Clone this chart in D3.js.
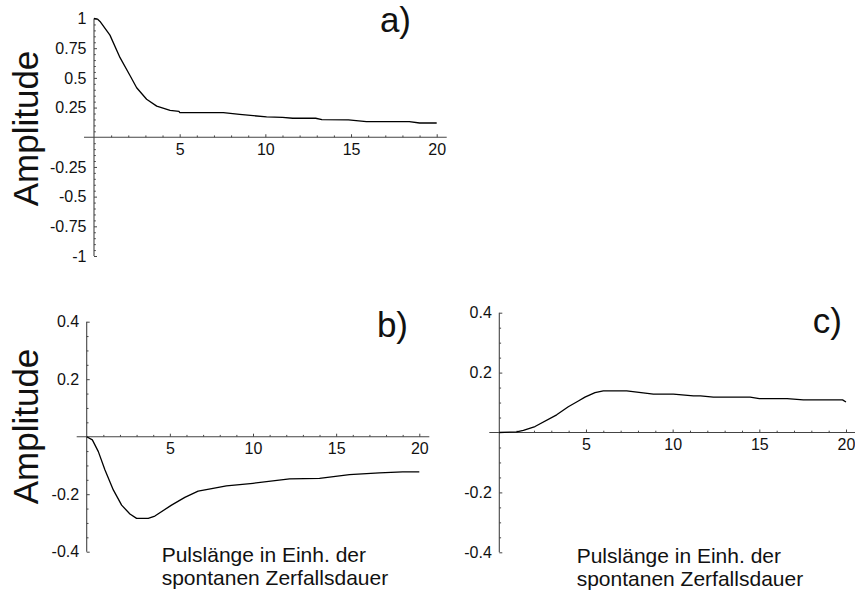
<!DOCTYPE html>
<html>
<head>
<meta charset="utf-8">
<script src="https://cdn.jsdelivr.net/npm/d3@7"></script>
<style>
  html, body { margin: 0; padding: 0; background: #fff; }
  svg { display: block; font-family: "Liberation Sans", Arial, sans-serif; }
</style>
</head>
<body>
<svg id="chart" width="855" height="592"></svg>
<script>
// ---- data ----
const aX = [0, 0.2, 0.35, 0.93, 1.52, 2.1, 2.49, 3.07, 3.66, 4.44, 4.96, 5.0, 7.55, 8.5, 10.07, 11.0, 11.6, 12.94, 13.3, 14.85, 15.9, 18.4, 19.0, 20];
const aY = [1.0, 0.995, 0.975, 0.86, 0.67, 0.52, 0.417, 0.32, 0.262, 0.227, 0.218, 0.208, 0.208, 0.193, 0.171, 0.168, 0.16, 0.16, 0.148, 0.146, 0.132, 0.132, 0.12, 0.12];

const bX = [0, 0.34, 0.7, 1.1, 1.6, 2.1, 2.6, 3.0, 3.7, 4.1, 5.1, 5.9, 6.7, 7.6, 8.4, 10.0, 12.2, 14.0, 15.8, 17.6, 19.0, 20];
const bY = [0, -0.011, -0.052, -0.116, -0.185, -0.238, -0.269, -0.284, -0.284, -0.276, -0.238, -0.211, -0.189, -0.18, -0.171, -0.162, -0.147, -0.145, -0.132, -0.126, -0.122, -0.122];

const cX = [0, 1.0, 1.39, 2.06, 3.31, 3.98, 4.56, 4.94, 5.52, 6.0, 7.35, 8.89, 10.04, 11.2, 11.6, 12.35, 14.47, 15.0, 16.6, 17.54, 19.8, 20];
const cY = [0, 0.002, 0.007, 0.02, 0.059, 0.086, 0.105, 0.118, 0.133, 0.139, 0.139, 0.128, 0.128, 0.122, 0.122, 0.118, 0.118, 0.113, 0.113, 0.109, 0.109, 0.102];

const xTickLabels = [5, 10, 15, 20];
const aYTickLabels = [-1, -0.75, -0.5, -0.25, 0.25, 0.5, 0.75, 1];
const bcYTickLabels = [-0.4, -0.2, 0.2, 0.4];
const panelLabels = ["a)", "b)", "c)"];
const yTitle = "Amplitude";
const xTitleLines = ["Pulslänge in Einh. der", "spontanen Zerfallsdauer"];

// ---- layout ----
const svg = d3.select("#chart");
const axisColor = "#444";
const textColor = "#111";

function panel(cfg) {
  const x = d3.scaleLinear().domain([0, 20]).range(cfg.xr);
  const y = d3.scaleLinear().domain(cfg.yd).range(cfg.yr);
  const g = svg.append("g");
  const y0 = y(0), x0 = x(0);

  // axis lines
  g.append("line").attr("x1", x0 - 10).attr("x2", x(20) + cfg.xExt)
    .attr("y1", y0).attr("y2", y0).attr("stroke", axisColor).attr("stroke-width", 1.1);
  g.append("line").attr("x1", x0).attr("x2", x0)
    .attr("y1", y(cfg.yd[0])).attr("y2", y(cfg.yd[1])).attr("stroke", axisColor).attr("stroke-width", 1.1);

  // x minor ticks
  const xMinor = d3.range(1, 21).filter(v => v % 5 !== 0);
  g.append("g").attr("transform", `translate(0,${y0})`)
    .call(d3.axisBottom(x).tickValues(xMinor).tickSizeInner(-1.8).tickSizeOuter(0).tickFormat(""))
    .call(s => s.select(".domain").remove());
  // x major ticks + labels
  const xa = g.append("g").attr("transform", `translate(0,${y0})`)
    .call(d3.axisBottom(x).tickValues(xTickLabels).tickSizeInner(-3).tickSizeOuter(0).tickPadding(6).tickFormat(d => String(d)));
  xa.select(".domain").remove();

  // y minor ticks
  const yMinor = d3.range(Math.round(cfg.yd[0] / 0.05), Math.round(cfg.yd[1] / 0.05) + 1)
    .map(k => +(k * 0.05).toFixed(2)).filter(v => v !== 0 && !cfg.yt.some(t => Math.abs(t - v) < 1e-9));
  g.append("g").attr("transform", `translate(${x0},0)`)
    .call(d3.axisLeft(y).tickValues(yMinor).tickSizeInner(-1.8).tickSizeOuter(0).tickFormat(""))
    .call(s => s.select(".domain").remove());
  const ya = g.append("g").attr("transform", `translate(${x0},0)`)
    .call(d3.axisLeft(y).tickValues(cfg.yt).tickSizeInner(-3).tickSizeOuter(0).tickPadding(7.5).tickFormat(d => String(d)));
  ya.select(".domain").remove();

  g.selectAll(".tick line").attr("stroke", axisColor).attr("stroke-width", 1);
  g.selectAll(".tick text").attr("fill", textColor).style("font-size", "16px")
    .style("font-family", '"Liberation Sans", Arial, sans-serif');

  // curve
  const pts = cfg.xs.map((v, i) => [v, cfg.ys[i]]);
  g.append("path").datum(pts)
    .attr("d", d3.line().x(d => x(d[0])).y(d => y(d[1])))
    .attr("fill", "none").attr("stroke", "#000").attr("stroke-width", 1.3)
    .attr("stroke-linejoin", "round");

  // panel letter
  g.append("text").attr("x", cfg.lab[0]).attr("y", cfg.lab[1])
    .attr("text-anchor", "end").attr("fill", textColor)
    .style("font-size", "35px").text(cfg.label);

  // y title
  if (cfg.yTitle) {
    g.append("text").attr("transform", `translate(${cfg.yTitle[0]},${cfg.yTitle[1]}) rotate(-90)`)
      .attr("text-anchor", "middle").attr("fill", textColor)
      .style("font-size", "35px").text(yTitle);
  }
  // x title
  if (cfg.xTitle) {
    g.selectAll(".xt").data(xTitleLines).join("text")
      .attr("x", cfg.xTitle[0]).attr("y", (d, i) => cfg.xTitle[1] + i * 23)
      .attr("fill", textColor).style("font-size", "21px").text(d => d);
  }
}

panel({ xr: [94, 436.7], yd: [-1, 1], yr: [256, 18.5], xExt: 10, yt: aYTickLabels,
        xs: aX, ys: aY, label: panelLabels[0], lab: [411, 32], yTitle: [38, 128.5] });
panel({ xr: [86.7, 419.3], yd: [-0.4, 0.4], yr: [551.7, 321.7], xExt: 10, yt: bcYTickLabels,
        xs: bX, ys: bY, label: panelLabels[1], lab: [408, 337], yTitle: [38, 426.5], xTitle: [161.7, 561.7] });
panel({ xr: [499.3, 846], yd: [-0.4, 0.4], yr: [552.3, 312.7], xExt: 12, yt: bcYTickLabels,
        xs: cX, ys: cY, label: panelLabels[2], lab: [842, 333], xTitle: [576.7, 562.5] });
</script>
</body>
</html>
